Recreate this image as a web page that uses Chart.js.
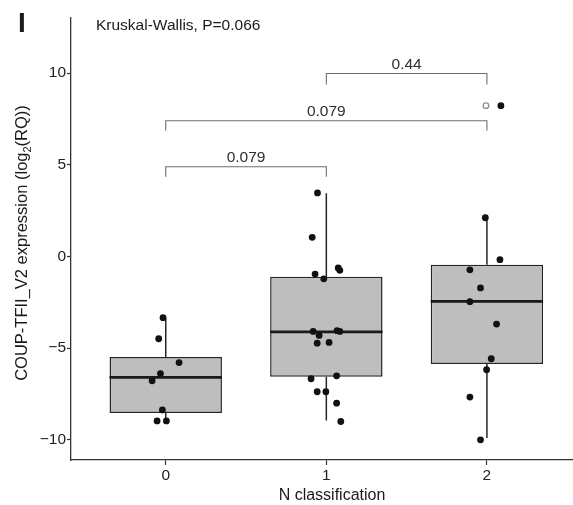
<!DOCTYPE html>
<html>
<head>
<meta charset="utf-8">
<script src="https://cdn.jsdelivr.net/npm/chart.js@4.4.1/dist/chart.umd.min.js"></script>
<style>
  html, body { margin: 0; padding: 0; background: #fff; }
  #wrap { width: 573px; height: 505px; position: relative; }
</style>
</head>
<body>
<div id="wrap"><canvas id="myChart"></canvas></div>
<script>
// categorias del eje x
const grupos = ["0", "1", "2"];
const posGrupos = [0, 1, 2];
const ticksY = [-10, -5, 0, 5, 10];

// resumen de cada caja
const cajaMin = [-8.97, -8.95, -9.9];
const cajaQ1 = [-8.54, -6.56, -5.87];
const cajaMediana = [-6.6, -4.11, -2.45];
const cajaQ3 = [-5.49, -1.11, -0.45];
const cajaMax = [-3.34, 3.44, 2.11];

// atipicos que marca el boxplot (circulo abierto)
const atipicosX = [1.994];
const atipicosY = [8.22];

// puntos con jitter
const puntosX = [
  -0.017, -0.044, 0.083, -0.033, -0.085, -0.021, -0.054, 0.004,
  0.945, 0.912, 1.074, 1.084, 0.930, 0.984, 0.918, 0.955, 1.067, 1.084,
  0.943, 1.017, 0.905, 1.064, 0.943, 0.997, 1.064, 1.09,
  2.087, 1.99, 2.081, 1.894, 1.96, 1.894, 2.06, 2.027, 1.998, 1.894, 1.96
];
const puntosY = [
  -3.34, -4.49, -5.79, -6.39, -6.78, -8.37, -8.97, -8.97,
  3.46, 1.04, -0.63, -0.76, -0.96, -1.22, -4.09, -4.31, -4.05, -4.09,
  -4.73, -4.69, -6.67, -6.51, -7.38, -7.38, -8.0, -9.0,
  8.22, 2.11, -0.18, -0.73, -1.72, -2.47, -3.69, -5.58, -6.18, -7.67, -10.0
];

// comparaciones por pares
const compIni = [0, 0, 1];
const compFin = [1, 2, 2];
const compAltura = [4.89, 7.40, 9.97];
const compPunta = [4.35, 6.86, 9.37];
const compP = ["0.079", "0.079", "0.44"];

const tituloKW = "Kruskal-Wallis, P=0.066";
const fuente = "'Liberation Sans', Arial, Helvetica, sans-serif";
Chart.defaults.font.family = fuente;

// segmentos de bigotes
const bigotes = [];
posGrupos.forEach((x, i) => {
  bigotes.push({x: x, y: cajaQ3[i]}, {x: x, y: cajaMax[i]}, {x: x, y: null});
  bigotes.push({x: x, y: cajaQ1[i]}, {x: x, y: cajaMin[i]}, {x: x, y: null});
});
// lineas de mediana (media anchura de caja = 0.35)
const medianas = [];
posGrupos.forEach((x, i) => {
  medianas.push({x: x - 0.35, y: cajaMediana[i]}, {x: x + 0.35, y: cajaMediana[i]}, {x: x + 0.5, y: null});
});
// corchetes
const corchetes = [];
compIni.forEach((a, k) => {
  const b = compFin[k];
  corchetes.push({x: a, y: compPunta[k]}, {x: a, y: compAltura[k]},
                 {x: b, y: compAltura[k]}, {x: b, y: compPunta[k]}, {x: b, y: null});
});

//textos extra: letra del panel, titulo, etiquetas de p y titulos de ejes
const textos = {
  id: "textos",
  afterDraw(chart) {
    const ctx = chart.ctx;
    const sx = chart.scales.x, sy = chart.scales.y;
    ctx.save();
    ctx.fillStyle = "#1a1a1a";
    ctx.textBaseline = "alphabetic";

    ctx.font = "bold 28px " + fuente;
    ctx.textAlign = "left";
    ctx.fillText("I", 18, 32);

    ctx.font = "15.5px " + fuente;
    ctx.fillText(tituloKW, 96, 30);

    ctx.fillStyle = "#2e2e2e";
    ctx.textAlign = "center";
    compP.forEach((p, k) => {
      const xm = (sx.getPixelForValue(compIni[k]) + sx.getPixelForValue(compFin[k])) / 2;
      ctx.fillText(p, xm, sy.getPixelForValue(compAltura[k]) - 5);
    });

    ctx.fillStyle = "#1a1a1a";
    ctx.font = "16px " + fuente;
    ctx.fillText("N classification", 332, 500);

    // titulo y con subindice
    const p1 = "COUP-TFII_V2 expression (log", sub = "2", p2 = "(RQ))";
    ctx.font = "16.5px " + fuente;
    const w1 = ctx.measureText(p1).width, w3 = ctx.measureText(p2).width;
    ctx.font = "11px " + fuente;
    const w2 = ctx.measureText(sub).width;
    const total = w1 + w2 + w3;
    ctx.translate(21.5, 243);
    ctx.rotate(-Math.PI / 2);
    ctx.textAlign = "left";
    let xx = -total / 2;
    ctx.font = "16.5px " + fuente;
    ctx.fillText(p1, xx, 5.5);
    xx += w1;
    ctx.font = "11px " + fuente;
    ctx.fillText(sub, xx, 9);
    xx += w2;
    ctx.font = "16.5px " + fuente;
    ctx.fillText(p2, xx, 5.5);
    ctx.restore();
  }
};

const grafica = document.getElementById("myChart").getContext("2d");
const myChart = new Chart(grafica, {
  type: "scatter",
  data: {
    datasets: [
      {
        type: "scatter",
        label: "puntos",
        data: puntosX.map((x, i) => ({x: x, y: puntosY[i]})),
        pointRadius: 3.4,
        pointBackgroundColor: "#111",
        pointBorderColor: "#111",
        pointBorderWidth: 0,
        order: 0
      },
      {
        type: "scatter",
        label: "atipicos",
        data: atipicosX.map((x, i) => ({x: x, y: atipicosY[i]})),
        pointRadius: 2.8,
        pointBackgroundColor: "#fff",
        pointBorderColor: "#8c8c8c",
        pointBorderWidth: 1.3,
        order: 1
      },
      {
        type: "line",
        label: "medianas",
        data: medianas,
        borderColor: "#1a1a1a",
        borderWidth: 2.8,
        pointRadius: 0,
        spanGaps: false,
        order: 2
      },
      {
        type: "line",
        label: "bigotes",
        data: bigotes,
        borderColor: "#262626",
        borderWidth: 1.5,
        pointRadius: 0,
        spanGaps: false,
        order: 3
      },
      {
        type: "line",
        label: "corchetes",
        data: corchetes,
        borderColor: "#6e6e6e",
        borderWidth: 1.1,
        pointRadius: 0,
        spanGaps: false,
        clip: false,
        order: 3
      },
      {
        type: "bar",
        label: "cajas",
        data: posGrupos.map((x, i) => ({x: x, y: [cajaQ1[i], cajaQ3[i]]})),
        backgroundColor: "#bebebe",
        borderColor: "#262626",
        borderWidth: 1.5,
        borderSkipped: false,
        barPercentage: 0.875,
        categoryPercentage: 0.8,
        order: 5
      }
    ]
  },
  options: {
    responsive: true,
    maintainAspectRatio: false,
    devicePixelRatio: 1,
    animation: false,
    layout: { autoPadding: false, padding: { top: 18, right: 0, left: 0, bottom: 0 } },
    plugins: {
      legend: { display: false },
      tooltip: { enabled: false }
    },
    scales: {
      x: {
        type: "linear",
        min: -0.59,
        max: 2.536,
        offset: false,
        afterBuildTicks: (s) => { s.ticks = posGrupos.map(v => ({value: v})); },
        afterFit: (s) => { s.height = 45; s.paddingLeft = 0; s.paddingRight = 0; },
        ticks: {
          callback: (v, i) => grupos[i],
          font: { size: 15.5 },
          color: "#222",
          padding: 1,
          maxRotation: 0
        },
        grid: { offset: false, drawOnChartArea: false, drawTicks: true, tickLength: 5, tickColor: "#333", tickWidth: 1.2 },
        border: { color: "#333", width: 1.3 }
      },
      y: {
        type: "linear",
        min: -11.1,
        max: 13.0,
        afterBuildTicks: (s) => { s.ticks = ticksY.map(v => ({value: v})); },
        afterFit: (s) => { s.width = 71; s.paddingTop = 0; s.paddingBottom = 0; },
        ticks: {
          callback: (v) => String(v).replace("-", "\u2212"),
          font: { size: 15.5 },
          color: "#222",
          padding: 1
        },
        grid: { drawOnChartArea: false, drawTicks: true, tickLength: 4, tickColor: "#333", tickWidth: 1.2 },
        border: { color: "#333", width: 1.3 }
      }
    }
  },
  plugins: [textos]
});
</script>
</body>
</html>
